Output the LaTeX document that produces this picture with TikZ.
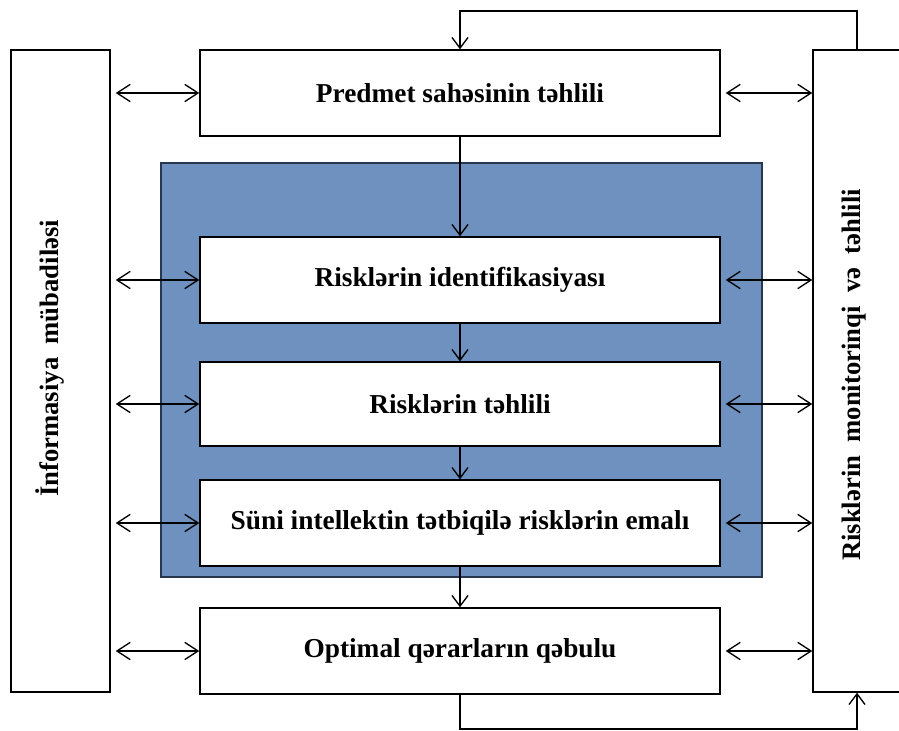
\documentclass[tikz,border=0pt]{standalone}
\usepackage{fontspec}
\setmainfont{Liberation Serif}
\usetikzlibrary{arrows.meta}
\definecolor{panelblue}{RGB}{110,145,192}
\definecolor{paneledge}{RGB}{40,55,80}
\begin{document}
\begin{tikzpicture}[x=0.75pt, y=-0.75pt,
    stage/.style={draw, fill=white, line width=1.1pt, inner sep=0pt,
        minimum width=390pt, minimum height=64.5pt,
        font=\bfseries\fontsize{20.5}{24}\selectfont},
    side/.style={draw, fill=white, line width=1.1pt, inner sep=0pt, rotate=90,
        minimum width=481.5pt, font=\bfseries\fontsize{20}{24}\selectfont},
    link/.style={line width=1pt, -{Straight Barb[length=8pt,width=12pt]}},
    both/.style={line width=1pt, shorten <=3.75pt,
        {Straight Barb[length=10pt,width=13pt]}-{Straight Barb[length=10pt,width=13pt]}}]
    \useasboundingbox (0,0) rectangle (899,731);

    % blue frame
    \draw[paneledge, line width=1.2pt, fill=panelblue] (161,163) rectangle (762,577);

    \node[stage] (pred)  at (460,93)  {Predmet sahəsinin təhlili};
    \node[stage] (ident) at (460,280) {Risklərin identifikasiyası};
    \node[stage, minimum height=63pt] (anal) at (460,404) {Risklərin təhlili};
    \node[stage] (ai)    at (460,523) {Süni intellektin tətbiqilə risklərin emalı};
    \node[stage] (opt)   at (460,651) {Optimal qərarların qəbulu};

    \node[side, minimum height=74.25pt] (info) at (60.5,371)
        {\raisebox{20pt}{\hspace*{19pt}İnformasiya\ \ mübadiləsi}};
    \node[side, minimum height=66pt] (mon) at (857,371)
        {\raisebox{9pt}{Risklərin\ \ monitorinqi\ \ və\ \ təhlili\hspace*{6pt}}};

    \coordinate (loopT) at (856,11);
    \coordinate (loopB) at (856,729);

    \draw[link] (pred) -- (ident);
    \draw[link] (ident) -- (anal);
    \draw[link] (anal) -- (ai);
    \draw[link] (ai) -- (opt);

    \foreach \s in {pred, ident, anal, ai, opt} {
        \draw[both] (info.south |- \s.west) -- (\s.west);
        \draw[both] (\s.east) -- (\s.east -| mon.north);
    }

    \draw[link] (mon.east) |- (loopT) -| (pred.north);
    \draw[link] (opt.south) |- (loopB) -| (mon.west);

\end{tikzpicture}
\end{document}
